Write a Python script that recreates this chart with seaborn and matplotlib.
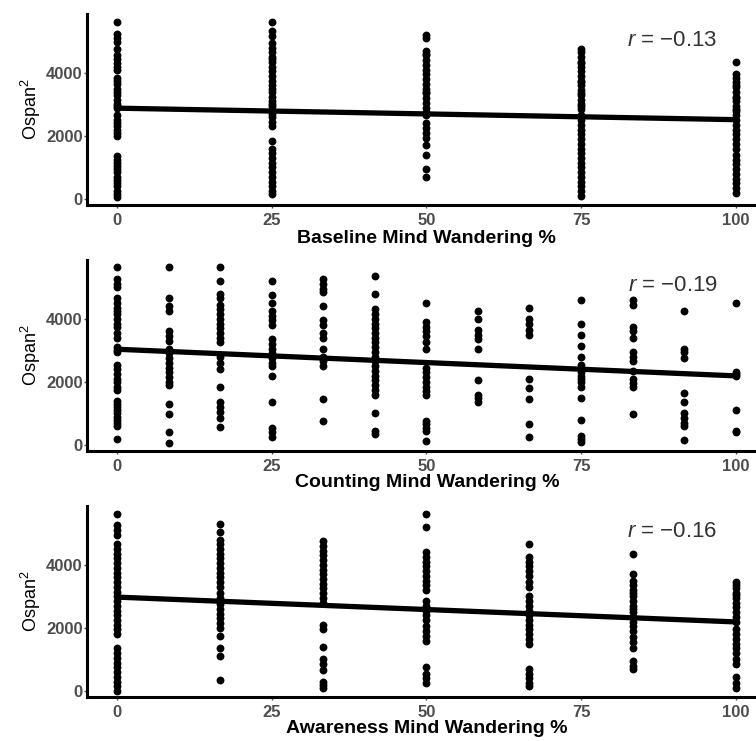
import pandas as pd
import matplotlib
matplotlib.use("Agg")
import matplotlib.pyplot as plt
import seaborn as sns

# values, one list per x column

baseline_x = [0, 25, 50, 75, 100]
baseline_0 = [5610, 5220, 5110, 4990, 4750, 4550, 4450, 4300, 4200, 4100, 3850, 3750, 3650, 3500,
              3400, 3300, 3150, 3000, 2950, 2900, 2650, 2500, 2400, 2300, 2200, 2100, 2000, 1350,
              1250, 1150, 1050, 950, 850, 700, 600, 500, 400, 250, 150, 50]
baseline_25 = [5610, 5330, 5180, 4950, 4800, 4650, 4500, 4450, 4350, 4200, 4050, 3900, 3750, 3600,
               3500, 3400, 3250, 3100, 3000, 2950, 2800, 2700, 2600, 2450, 2300, 1850, 1600, 1450,
               1300, 1150, 1000, 850, 700, 550, 400, 250, 150]
baseline_50 = [5200, 5100, 4700, 4600, 4550, 4400, 4250, 4100, 3950, 3800, 3650, 3500, 3400, 3350,
               3200, 3050, 2900, 2750, 2650, 2400, 2250, 2100, 1950, 1700, 1400, 950, 700]
baseline_75 = [4750, 4650, 4500, 4350, 4300, 4200, 4050, 3900, 3750, 3700, 3600, 3450, 3350, 3300,
               3150, 3000, 2950, 2850, 2650, 2500, 2350, 2200, 2050, 1900, 1750, 1600, 1450, 1300,
               1150, 1000, 850, 700, 550, 400, 250, 100]
baseline_100 = [4350, 3950, 3850, 3700, 3600, 3550, 3400, 3250, 3200, 3100, 2950, 2850, 2800, 2650,
                2500, 2350, 2200, 2050, 1900, 1750, 1600, 1400, 1250, 1100, 950, 800, 650, 500,
                350, 200]

counting_x = [0, 8.33, 16.67, 25, 33.33, 41.67, 50, 58.33, 66.67, 75, 83.33, 91.67, 100]
counting_0 = [5650, 5250, 5100, 5000, 4650, 4500, 4350, 4250, 4150, 4000, 3850, 3750, 3550, 3400,
              3100, 3000, 2950, 2550, 2400, 2250, 2100, 2000, 1850, 1750, 1400, 1300, 1200, 1100,
              1000, 900, 800, 700, 600, 200]
counting_8 = [5650, 4650, 4400, 4250, 3600, 3450, 3300, 3050, 2900, 2750, 2600, 2450, 2300, 2150,
              2000, 1900, 1300, 980, 400, 50]
counting_17 = [5650, 5200, 4800, 4650, 4450, 4300, 4150, 4000, 3850, 3700, 3550, 3400, 3250, 2800,
               2600, 2400, 1850, 1350, 1200, 1050, 850, 580]
counting_25 = [5200, 4750, 4500, 4250, 4100, 3950, 3800, 3350, 3200, 3050, 2900, 2750, 2600, 2500,
               2200, 1350, 550, 400, 250]
counting_33 = [5250, 5100, 4950, 4850, 4400, 3950, 3800, 3550, 3400, 3050, 2800, 2650, 2500, 1450, 770]
counting_42 = [5350, 4800, 4300, 4150, 4000, 3850, 3700, 3550, 3400, 3250, 3100, 2950, 2800, 2650,
               2500, 2350, 2200, 2050, 1900, 1750, 1600, 1000, 450, 350]
counting_50 = [4500, 3900, 3750, 3600, 3450, 3250, 3050, 2450, 2300, 2150, 2000, 1850, 1700, 1600,
               750, 650, 550, 450, 130]
counting_58 = [4250, 4000, 3650, 3500, 3350, 3050, 2050, 1600, 1500, 1350]
counting_67 = [4350, 4000, 3850, 3650, 3500, 2100, 1800, 1450, 650, 250]
counting_75 = [4600, 3850, 3500, 3150, 2800, 2550, 2400, 2300, 2200, 2100, 2000, 1850, 1500, 800,
               300, 200, 80]
counting_83 = [4600, 4450, 3750, 3600, 3400, 2950, 2800, 2650, 2350, 2100, 1950, 1850, 980]
counting_92 = [4250, 3050, 2950, 2750, 1650, 1350, 1000, 850, 700, 600, 150]
counting_100 = [4500, 2300, 2250, 2200, 1100, 450, 400]

awareness_x = [0, 16.67, 33.33, 50, 66.67, 83.33, 100]
awareness_0 = [5600, 5250, 5100, 4950, 4650, 4500, 4350, 4200, 4050, 3900, 3750, 3600, 3450, 3300,
               3150, 3000, 2850, 2700, 2550, 2400, 2250, 2100, 1950, 1800, 1350, 1200, 1050, 900,
               750, 600, 450, 300, 150, 0]
awareness_17 = [5300, 5050, 4800, 4650, 4500, 4350, 4200, 4050, 3900, 3750, 3600, 3450, 3300, 3100,
                2950, 2750, 2600, 2450, 2300, 2150, 2000, 1750, 1350, 1100, 350]
awareness_33 = [4750, 4600, 4450, 4300, 4150, 4000, 3850, 3700, 3550, 3400, 3250, 3100, 2950, 2800,
                2100, 1950, 1400, 1000, 850, 650, 300, 200, 100]
awareness_50 = [5600, 5200, 4400, 4250, 4100, 3950, 3800, 3650, 3500, 3350, 3200, 2850, 2700, 2550,
                2400, 2250, 2050, 1900, 1750, 1600, 750, 550, 400, 250]
awareness_67 = [4650, 4250, 4100, 3950, 3800, 3650, 3450, 3300, 3000, 2850, 2700, 2550, 2400, 2250,
                2100, 1950, 1800, 1650, 1500, 700, 550, 400, 250, 150]
awareness_83 = [4350, 3700, 3500, 3350, 3200, 3100, 3000, 2850, 2700, 2600, 2500, 2350, 2200, 2050,
                1900, 1700, 1550, 1350, 950, 800, 700]
awareness_100 = [3450, 3350, 3250, 3100, 3050, 2950, 2800, 2650, 2500, 2350, 2200, 1950, 1800, 1650,
                 1500, 1350, 1200, 1000, 850, 450, 250, 100]

panel_labels = ["Baseline Mind Wandering %", "Counting Mind Wandering %", "Awareness Mind Wandering %"]
r_labels = ["−0.13", "−0.19", "−0.16"]
y_ticks = [0, 2000, 4000]
x_ticks = [0, 25, 50, 75, 100]

panels = [
    (baseline_x, [baseline_0, baseline_25, baseline_50, baseline_75, baseline_100]),
    (counting_x, [counting_0, counting_8, counting_17, counting_25, counting_33, counting_42,
                  counting_50, counting_58, counting_67, counting_75, counting_83, counting_92,
                  counting_100]),
    (awareness_x, [awareness_0, awareness_17, awareness_33, awareness_50, awareness_67,
                   awareness_83, awareness_100]),
]

sns.set_style("white")
plt.rcParams['font.family'] = ['Liberation Sans', 'DejaVu Sans']
plt.rcParams['mathtext.fontset'] = 'custom'
plt.rcParams['mathtext.it'] = 'Liberation Sans:italic'
plt.rcParams['mathtext.rm'] = 'Liberation Sans'

fig = plt.figure(figsize=(7.56, 7.41), dpi=100)
bottoms = [0.7233, 0.3914, 0.0594]
label_y = [-0.13, -0.118, -0.118]

for i, (xs, cols) in enumerate(panels):
    ax = fig.add_axes([0.115, bottoms[i], 0.885, 0.258])
    rows = []
    for x, col in zip(xs, cols):
        for y in col:
            rows.append({'x': x, 'y': y})
    df = pd.DataFrame(rows)

    sns.regplot(data=df, x='x', y='y', ax=ax, ci=None, color='black',
                scatter_kws={'s': 32, 'linewidths': 0, 'alpha': 1},
                line_kws={'linewidth': 3.8, 'solid_capstyle': 'butt'})

    ax.set_xlim(-4.9, 103.3)
    ax.set_ylim(-190, 5870)
    ax.set_xticks(x_ticks)
    ax.set_yticks(y_ticks)
    ax.tick_params(axis='both', colors='#4d4d4d', labelsize=12, length=2, width=1,
                   bottom=True, left=True)
    ax.tick_params(axis='x', pad=4)
    ax.tick_params(axis='y', pad=1)
    for lab in ax.get_xticklabels() + ax.get_yticklabels():
        lab.set_fontweight('bold')
    for side in ['top', 'right']:
        ax.spines[side].set_visible(False)
    for side in ['left', 'bottom']:
        ax.spines[side].set_color('black')
        ax.spines[side].set_linewidth(2.2)

    ax.set_xlabel(panel_labels[i], fontsize=14, fontweight='bold', color='black')
    ax.set_ylabel('Ospan$^2$', fontsize=13, color='black')
    ax.xaxis.set_label_coords(0.508, label_y[i])
    ax.yaxis.set_label_coords(-0.066, 0.5)
    ax.text(89.8, 5040, '$r$ = ' + r_labels[i], fontsize=16, color='#333333',
            ha='center', va='center')

fig.savefig('out.png', dpi=100)
